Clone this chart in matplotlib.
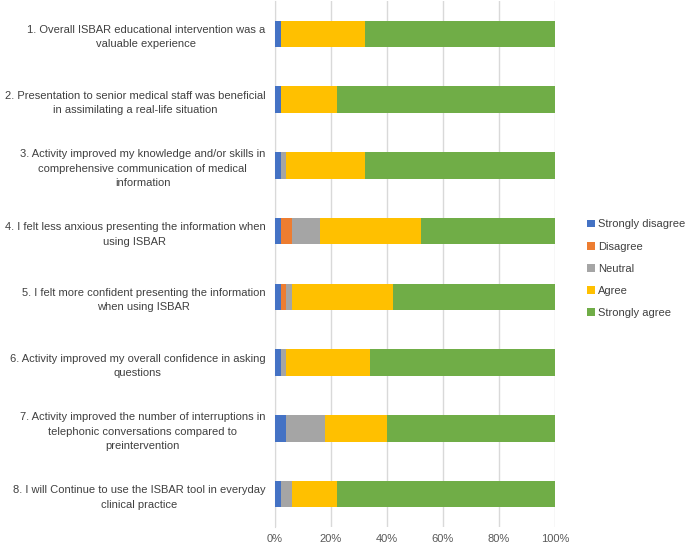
import matplotlib.pyplot as plt
import numpy as np

plt.rcParams['font.family'] = ['Liberation Sans', 'DejaVu Sans']

labels = [
    '1. Overall ISBAR educational intervention was a\nvaluable experience',
    '2. Presentation to senior medical staff was beneficial\nin assimilating a real-life situation',
    '3. Activity improved my knowledge and/or skills in\ncomprehensive communication of medical\ninformation',
    '4. I felt less anxious presenting the information when\nusing ISBAR',
    '5. I felt more confident presenting the information\nwhen using ISBAR',
    '6. Activity improved my overall confidence in asking\nquestions',
    '7. Activity improved the number of interruptions in\ntelephonic conversations compared to\npreintervention',
    '8. I will Continue to use the ISBAR tool in everyday\nclinical practice',
]

strongly_disagree = [2, 2, 2, 2, 2, 2, 4, 2]
disagree = [0, 0, 0, 4, 2, 0, 0, 0]
neutral = [0, 0, 2, 10, 2, 2, 14, 4]
agree = [30, 20, 28, 36, 36, 30, 22, 16]
strongly_agree = [68, 78, 68, 48, 58, 66, 60, 78]

series = [
    ('Strongly disagree', strongly_disagree, '#4472c4'),
    ('Disagree', disagree, '#ed7d31'),
    ('Neutral', neutral, '#a5a5a5'),
    ('Agree', agree, '#ffc000'),
    ('Strongly agree', strongly_agree, '#70ad47'),
]

fig = plt.figure(figsize=(6.85, 5.47), dpi=100)
ax = fig.add_axes([275 / 685, 1 - 527 / 547, 280 / 685, 526 / 547])

y = np.arange(len(labels))
left = np.zeros(len(labels))
handles = []
for name, vals, col in series:
    vals = np.array(vals, dtype=float)
    h = ax.barh(y, vals, left=left, height=0.4, color=col, label=name, zorder=3)
    handles.append(h)
    left += vals

ax.set_xlim(0, 100)
ax.set_ylim(len(labels) - 0.5, -0.5)
ax.set_xticks(np.arange(0, 101, 20))
ax.set_xticklabels([f'{v}%' for v in range(0, 101, 20)], fontsize=8, color='#595959')
ax.set_yticks(y)
ax.set_yticklabels(labels, fontsize=8, color='#404040', ha='right',
                   multialignment='center', linespacing=1.55)
ax.tick_params(axis='y', length=0, pad=7)
ax.tick_params(axis='x', length=0, pad=5)
ax.grid(axis='x', color='#d9d9d9', linewidth=1, zorder=0)
for s in ['top', 'right', 'bottom']:
    ax.spines[s].set_visible(False)
ax.spines['left'].set_color('#d9d9d9')

fig.legend(handles=handles, loc='upper left', bbox_to_anchor=(584 / 685, 1 - 216 / 547),
           frameon=False, fontsize=8, handlelength=0.7, handleheight=0.7,
           handletextpad=0.3, labelspacing=1.1, labelcolor='#404040',
           borderaxespad=0, borderpad=0.3)

fig.savefig('out.png', dpi=100)
